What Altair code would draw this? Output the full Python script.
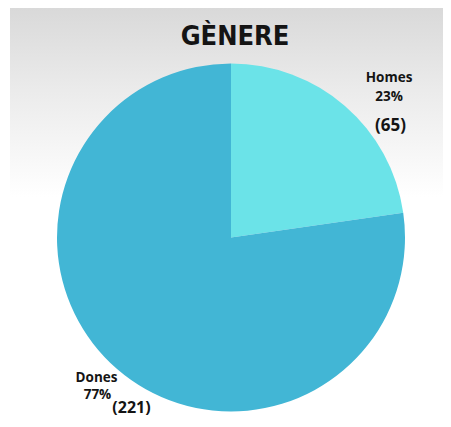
import math
import altair as alt
import pandas as pd

# ---- data ----
categories = ["Homes", "Dones"]
counts = [65, 221]
percent_labels = ["23%", "77%"]
count_labels = ["(65)", "(221)"]
slice_colors = ["#6be3e8", "#42b6d5"]
title_text = "GÈNERE"

df = pd.DataFrame({
    "category": categories,
    "count": counts,
    "pct": percent_labels,
    "countlabel": count_labels,
    "idx": list(range(len(categories))),
})

W, H = 435, 411
CX, CY, R = 223, 229.5, 174
LABEL_R = 210
INK = "#141414"

bg = alt.Chart(pd.DataFrame({"a": [0]})).mark_rect(
    color=alt.LinearGradient(
        gradient="linear",
        stops=[
            alt.GradientStop(color="#d9d9d9", offset=0),
            alt.GradientStop(color="#ebebeb", offset=0.2),
            alt.GradientStop(color="#ffffff", offset=0.46),
            alt.GradientStop(color="#ffffff", offset=1),
        ],
        x1=0, x2=0, y1=0, y2=1,
    )
).encode(x=alt.value(2), x2=alt.value(W), y=alt.value(0), y2=alt.value(H))

pie = alt.Chart(df).mark_arc(radius=R).encode(
    theta=alt.Theta("count:Q", stack=True),
    color=alt.Color("category:N", scale=alt.Scale(domain=categories, range=slice_colors), legend=None),
    order=alt.Order("idx:Q"),
    x=alt.value(CX),
    y=alt.value(CY),
)

title = alt.Chart(pd.DataFrame({"t": [title_text]})).mark_text(
    font="DejaVu Sans Condensed",
    fontWeight="bold", fontSize=27, color=INK, align="center", baseline="alphabetic",
).encode(text="t:N", x=alt.value(227), y=alt.value(37))

lab = alt.Chart(df).transform_window(
    cum="sum(count)", sort=[alt.SortField("idx", order="ascending")], frame=[None, 0]
).transform_joinaggregate(total="sum(count)").transform_calculate(
    mid="(datum.cum - datum.count / 2) / datum.total"
)

label_specs = [
    ("Homes", "category", 20.5, -1, 13.5, "Open Sans"),
    ("Homes", "pct", 20.5, 18, 13.5, "Open Sans"),
    ("Homes", "countlabel", 22, 47, 17, "Open Sans"),
    ("Dones", "category", 3, -18, 13.5, "Open Sans"),
    ("Dones", "pct", 4, -1.5, 13.5, "Open Sans"),
    ("Dones", "countlabel", 38, 12, 16, "Open Sans"),
]

label_layers = []
for cat, field, dx, dy, size, font in label_specs:
    label_layers.append(
        lab.transform_filter(alt.datum.category == cat).mark_text(
            radius=LABEL_R, dx=dx, dy=dy, fontSize=size, font=font, fontWeight="bold",
            color=INK, align="center", baseline="middle",
        ).encode(
            theta=alt.Theta("mid:Q", scale=alt.Scale(domain=[0, 1], range=[0, 2 * math.pi]), stack=False),
            text=alt.Text(f"{field}:N"),
            x=alt.value(CX),
            y=alt.value(CY),
        )
    )

chart = alt.layer(bg, pie, title, *label_layers).resolve_scale(theta="independent").properties(
    width=W, height=H,
    autosize=alt.AutoSizeParams(type="fit", contains="padding"),
    padding=0,
    background="#ffffff",
).configure_view(stroke=None)

chart.save("out.html", embed_options={"renderer": "svg", "actions": False})
